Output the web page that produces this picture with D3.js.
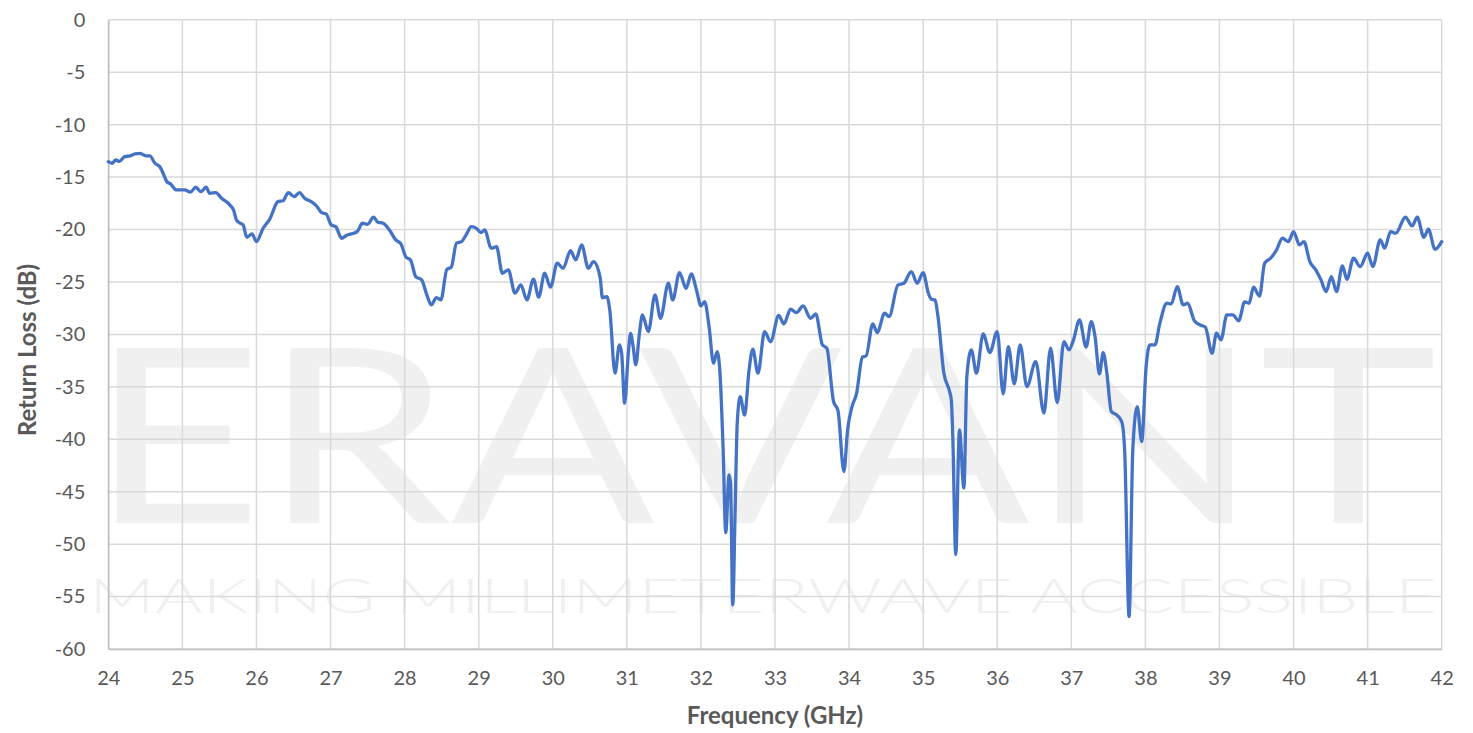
<!DOCTYPE html>
<html>
<head>
<meta charset="utf-8">
<script src="https://cdn.jsdelivr.net/npm/d3@7"></script>
<style>
  html, body { margin: 0; padding: 0; background: #ffffff; }
  svg { display: block; }
</style>
</head>
<body>
<svg id="chart" width="1473" height="733"></svg>
<script>
// ---- data ----
const freqGHz = [
  24.00,24.05,24.10,24.15,24.22,24.29,24.36,24.43,24.51,24.56,24.63,24.70,24.74,24.79,24.84,24.92,
  25.03,25.11,25.18,25.25,25.32,25.37,25.45,25.53,25.64,25.69,25.73,25.78,25.82,25.87,25.94,
  26.00,26.09,26.18,26.29,26.36,26.43,26.51,26.58,26.65,26.74,26.81,26.88,26.94,
  27.01,27.07,27.15,27.22,27.28,27.36,27.43,27.50,27.58,27.64,27.71,27.80,27.88,27.95,
  28.02,28.08,28.15,28.23,28.30,28.36,28.43,28.49,28.57,28.63,28.70,28.77,28.83,28.90,28.97,
  29.03,29.08,29.17,29.24,29.32,29.40,29.49,29.57,29.65,29.74,29.81,29.89,29.97,
  30.06,30.14,30.24,30.31,30.39,30.48,30.55,30.64,30.67,30.73,30.77,30.84,30.90,30.93,30.97,
  31.02,31.05,31.085,31.12,31.17,31.21,31.29,31.38,31.455,31.56,31.62,31.71,31.80,31.87,31.94,
  32.00,32.05,32.11,32.17,32.22,32.26,32.30,32.335,32.38,32.40,32.43,32.46,32.49,32.53,32.59,32.65,32.70,32.77,32.86,32.94,
  33.05,33.12,33.21,33.29,33.38,33.48,33.55,33.64,33.70,33.79,33.85,33.93,33.98,
  34.04,34.10,34.18,34.23,34.32,34.38,34.48,34.54,34.66,34.74,34.84,34.92,
  35.00,35.07,35.11,35.16,35.20,35.28,35.35,35.38,35.40,35.44,35.49,35.55,35.59,35.65,35.72,35.81,35.90,
  36.00,36.08,36.15,36.23,36.31,36.40,36.52,36.63,36.72,36.81,36.90,36.97,
  37.03,37.11,37.20,37.27,37.32,37.38,37.43,37.48,37.54,37.61,37.68,37.72,37.78,37.83,37.89,37.95,
  38.01,38.06,38.13,38.19,38.29,38.35,38.43,38.51,38.57,38.66,38.74,38.81,38.90,38.96,
  39.02,39.10,39.18,39.26,39.34,39.40,39.46,39.54,39.61,39.69,39.77,39.85,39.93,
  40.00,40.08,40.14,40.22,40.30,40.37,40.44,40.51,40.58,40.66,40.72,40.81,40.90,
  41.00,41.07,41.17,41.23,41.31,41.38,41.51,41.60,41.67,41.76,41.82,41.91,42.00
];
const returnLossDb = [
  -13.53,-13.68,-13.37,-13.5,-13.05,-12.98,-12.79,-12.73,-12.98,-12.98,-13.68,-14.06,-14.63,-15.43,-15.65,-16.22,
  -16.22,-16.42,-15.97,-16.38,-15.97,-16.54,-16.48,-17.02,-17.65,-18.13,-19.08,-19.4,-19.56,-20.74,-20.42,
  -21.15,-19.88,-19.0,-17.34,-17.25,-16.48,-16.86,-16.48,-17.02,-17.34,-17.75,-18.39,-18.51,
  -19.56,-19.72,-20.83,-20.54,-20.42,-20.2,-19.4,-19.5,-18.83,-19.3,-19.4,-20.1,-20.99,-21.37,
  -22.64,-22.9,-24.49,-24.8,-26.23,-27.19,-26.49,-26.71,-23.8,-23.59,-21.3,-21.15,-20.51,-19.72,-19.88,
  -20.29,-20.04,-21.78,-21.63,-24.17,-23.85,-26.07,-25.28,-26.71,-24.74,-26.45,-24.17,-25.5,
  -23.21,-23.69,-22.01,-22.9,-21.47,-23.69,-23.06,-24.6,-26.5,-26.4,-27.7,-33.7,-31.0,-31.8,-36.56,
  -31.8,-29.9,-31.16,-32.9,-29.9,-28.14,-29.73,-26.23,-28.46,-25.12,-26.71,-24.11,-25.6,-24.23,-25.76,
  -27.28,-26.87,-29.26,-32.75,-31.64,-34.02,-41.0,-48.9,-43.4,-44.19,-55.8,-47.4,-38.5,-35.93,-37.7,-33.4,-31.4,-33.7,-29.73,-30.7,
  -28.2,-29.0,-27.6,-27.92,-27.28,-28.46,-28.05,-31.0,-31.32,-36.4,-37.26,-43.08,-39.1,
  -36.88,-35.67,-32.17,-32.05,-29.0,-29.83,-27.98,-28.3,-25.28,-25.12,-24.01,-25.12,
  -24.11,-26.07,-26.64,-26.71,-28.3,-33.7,-35.29,-36.24,-39.74,-51.0,-39.1,-44.66,-34.02,-31.48,-33.7,-29.95,-31.73,
  -29.73,-35.67,-31.16,-34.72,-31.0,-34.98,-32.59,-37.51,-31.32,-36.5,-30.7,-31.48,
  -30.52,-28.62,-31.2,-28.78,-30.21,-33.77,-31.73,-33.7,-37.36,-37.67,-38.31,-41.0,-56.9,-41.0,-36.88,-40.22,
  -33.07,-31.0,-31.0,-29.1,-27.03,-27.09,-25.44,-27.19,-27.03,-28.68,-29.1,-29.31,-31.8,-29.89,
  -30.52,-28.14,-28.14,-28.7,-26.9,-27.03,-25.5,-26.35,-23.21,-22.74,-21.95,-20.83,-21.15,
  -20.2,-21.47,-21.15,-23.06,-23.85,-24.8,-25.92,-24.49,-25.92,-23.47,-24.74,-22.74,-23.54,
  -22.26,-23.54,-20.99,-21.78,-20.2,-20.35,-18.83,-19.66,-18.83,-20.74,-19.97,-21.88,-21.15
];
const xTickValues = [24,25,26,27,28,29,30,31,32,33,34,35,36,37,38,39,40,41,42];
const xTickLabels = ["24","25","26","27","28","29","30","31","32","33","34","35","36","37","38","39","40","41","42"];
const yTickValues = [0,-5,-10,-15,-20,-25,-30,-35,-40,-45,-50,-55,-60];
const yTickLabels = ["0","-5","-10","-15","-20","-25","-30","-35","-40","-45","-50","-55","-60"];
const xTitle = "Frequency (GHz)";
const yTitle = "Return Loss (dB)";
const watermarkMain = "ERAVANT";
const watermarkTag = "MAKING MILLIMETERWAVE ACCESSIBLE";

// ---- layout ----
const plot = { left: 108.3, right: 1441.7, top: 19.8, bottom: 649 };
const svg = d3.select("#chart");
const x = d3.scaleLinear().domain([24, 42]).range([plot.left, plot.right]);
const y = d3.scaleLinear().domain([0, -60]).range([plot.top, plot.bottom]);
const font = "Lato, 'Open Sans', 'DejaVu Sans', sans-serif";

// watermark (background of the plot area)
const wm = svg.append("g");
wm.append("text")
  .attr("x", 89).attr("y", 523)
  .attr("textLength", 1348).attr("lengthAdjust", "spacingAndGlyphs")
  .attr("font-family", font).attr("font-weight", 400).attr("font-size", 244)
  .attr("fill", "#f0f0f0")
  .text(watermarkMain);
wm.append("text")
  .attr("x", 89).attr("y", 613)
  .attr("textLength", 1348).attr("lengthAdjust", "spacingAndGlyphs")
  .attr("font-family", font).attr("font-weight", 300).attr("font-size", 48)
  .attr("fill", "#f0f0f0")
  .text(watermarkTag);

// gridlines
const grid = svg.append("g");
grid.selectAll("line.v").data(xTickValues).enter().append("line")
  .attr("x1", d => x(d)).attr("x2", d => x(d))
  .attr("y1", plot.top).attr("y2", plot.bottom)
  .attr("stroke", "#d9d9d9").attr("stroke-width", 1.5);
grid.selectAll("line.h").data(yTickValues).enter().append("line")
  .attr("x1", plot.left).attr("x2", plot.right)
  .attr("y1", d => y(d)).attr("y2", d => y(d))
  .attr("stroke", "#d9d9d9").attr("stroke-width", 1.5);

// axes
const xAxis = d3.axisBottom(x).tickValues(xTickValues)
  .tickFormat((d, i) => xTickLabels[i]).tickSize(0).tickPadding(22);
const gx = svg.append("g").attr("transform", `translate(0,${plot.bottom})`).call(xAxis);
gx.select(".domain").attr("stroke", "#bfbfbf").attr("stroke-width", 1.5);
gx.selectAll("text").attr("font-family", font).attr("font-size", 20).attr("fill", "#595959");

const yAxis = d3.axisLeft(y).tickValues(yTickValues)
  .tickFormat((d, i) => yTickLabels[i]).tickSize(0).tickPadding(23);
const gy = svg.append("g").attr("transform", `translate(${plot.left},0)`).call(yAxis);
gy.select(".domain").attr("stroke", "#bfbfbf").attr("stroke-width", 1.5);
gy.selectAll("text").attr("font-family", font).attr("font-size", 20).attr("fill", "#595959");

// line
const pts = freqGHz.map((f, i) => [f, returnLossDb[i]]);
const line = d3.line().x(d => x(d[0])).y(d => y(d[1])).curve(d3.curveMonotoneX);
svg.append("path").datum(pts)
  .attr("d", line)
  .attr("fill", "none").attr("stroke", "#4472c4").attr("stroke-width", 3.3)
  .attr("stroke-linejoin", "round").attr("stroke-linecap", "round");

// titles
svg.append("text")
  .attr("x", (plot.left + plot.right) / 2).attr("y", 724)
  .attr("text-anchor", "middle")
  .attr("font-family", font).attr("font-weight", 700).attr("font-size", 24)
  .attr("fill", "#595959").text(xTitle);
svg.append("text")
  .attr("transform", `translate(36,350) rotate(-90)`)
  .attr("text-anchor", "middle")
  .attr("font-family", font).attr("font-weight", 700).attr("font-size", 24)
  .attr("fill", "#595959").text(yTitle);
</script>
</body>
</html>
